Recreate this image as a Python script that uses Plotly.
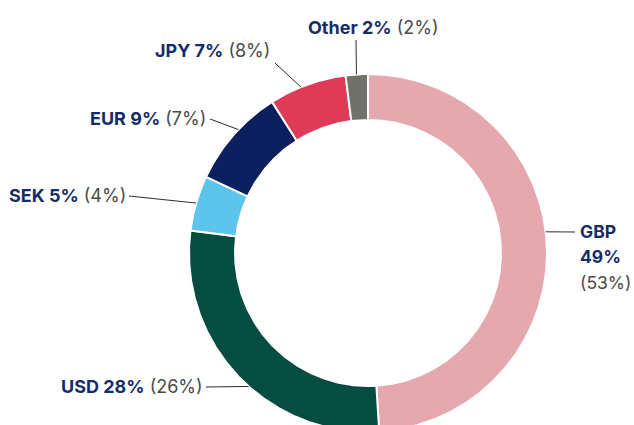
import numpy as np
import plotly.graph_objects as go

# ---- data ----
currencies = ["GBP", "USD", "SEK", "EUR", "JPY", "Other"]
share_now = [49, 28, 5, 9, 7, 2]      # bold values
share_prev = [53, 26, 4, 7, 8, 2]     # values in brackets
slice_colors = ["#E5A8AE", "#054C41", "#5DC4EB", "#0C1F5E", "#DF3A58", "#70716B"]

# ---- layout parameters (pixels) ----
W, H = 634, 425
CX, CY = 368, 253
R_OUT, R_IN = 179, 133
NAVY = "#152C66"
GREY = "#4A4A4A"
FONT = "Inter"
FS = 18

# label placement: text anchor, leader start (label side) and leader end angle on ring
label_pos = {
    "Other": dict(x=306, y=27, xanchor="left", lx=356, ly=40, ang=356.3),
    "JPY":   dict(x=272, y=50, xanchor="right", lx=275, ly=63, ang=338.0),
    "EUR":   dict(x=208, y=118, xanchor="right", lx=210, ly=119, ang=313.6),
    "SEK":   dict(x=128, y=195, xanchor="right", lx=129, ly=196, ang=286.2),
    "USD":   dict(x=205, y=386, xanchor="right", lx=206, ly=387, ang=221.8),
    "GBP":   dict(x=578, y=231, xanchor="left", lx=575, ly=232, ang=83.2),
}

fig = go.Figure()

total = sum(share_now)
start = 0.0
for name, v, c in zip(currencies, share_now, slice_colors):
    a0 = start / total * 360.0
    a1 = (start + v) / total * 360.0
    n = max(4, int((a1 - a0) * 3))
    t = np.radians(np.linspace(a0, a1, n))
    xs = np.concatenate([CX + R_OUT * np.sin(t), CX + R_IN * np.sin(t[::-1])])
    ys = np.concatenate([CY - R_OUT * np.cos(t), CY - R_IN * np.cos(t[::-1])])
    xs = np.append(xs, xs[0])
    ys = np.append(ys, ys[0])
    fig.add_trace(go.Scatter(
        x=xs, y=ys, mode="lines", fill="toself", fillcolor=c,
        line=dict(color="white", width=2), name=name,
        hoverinfo="text", text=f"{name} {v}%", showlegend=False,
    ))
    start += v

annotations = []
shapes = []
for name, now, prev in zip(currencies, share_now, share_prev):
    p = label_pos[name]
    ang = np.radians(p["ang"])
    ex = CX + R_OUT * np.sin(ang)
    ey = CY - R_OUT * np.cos(ang)
    shapes.append(dict(type="line", xref="x", yref="y", x0=p["lx"], y0=p["ly"],
                       x1=ex, y1=ey, line=dict(color="#2b2b2b", width=1)))
    if name == "GBP":
        lines = [f"<b>{name}</b>", f"<b>{now}%</b>",
                 f"<span style='color:{GREY}'>({prev}%)</span>"]
        for i, txt in enumerate(lines):
            annotations.append(dict(x=p["x"], y=p["y"] + i * 25.5, xref="x", yref="y",
                                    text=txt, showarrow=False, xanchor=p["xanchor"],
                                    yanchor="middle", font=dict(family=FONT, size=FS - 0.5, color=NAVY)))
    else:
        txt = f"<b>{name} {now}%</b> <span style='color:{GREY}'>({prev}%)</span>"
        annotations.append(dict(x=p["x"], y=p["y"], xref="x", yref="y", text=txt,
                                showarrow=False, xanchor=p["xanchor"], yanchor="middle",
                                font=dict(family=FONT, size=FS, color=NAVY)))

fig.update_layout(
    width=W, height=H, margin=dict(l=0, r=0, t=0, b=0),
    paper_bgcolor="white", plot_bgcolor="white",
    xaxis=dict(range=[0, W], visible=False, fixedrange=True),
    yaxis=dict(range=[H, 0], visible=False, fixedrange=True),
    annotations=annotations, shapes=shapes, showlegend=False,
)

fig.write_html("out.html", config={"displayModeBar": False},
               post_script="document.body.style.margin='0';document.body.style.overflow='hidden';")
